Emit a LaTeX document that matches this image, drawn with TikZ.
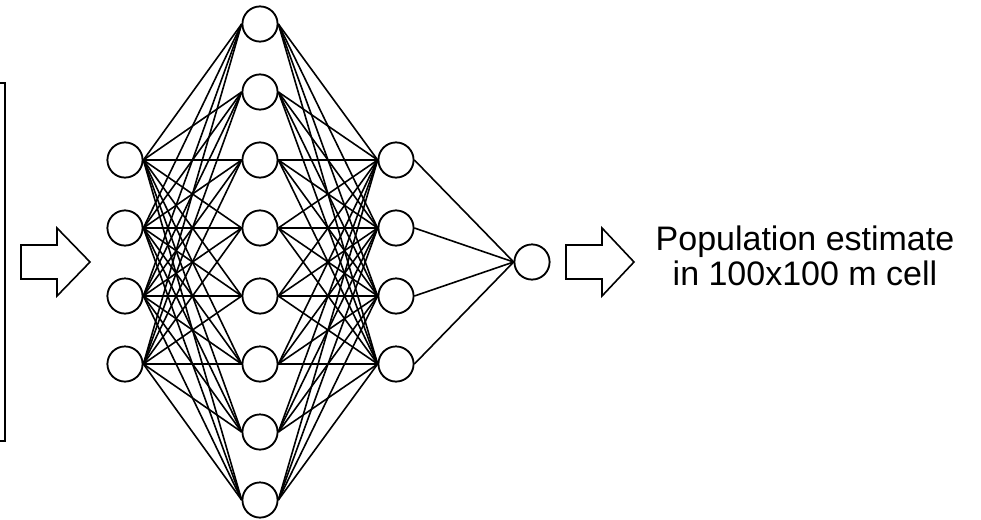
\documentclass[tikz,border=0pt]{standalone}
\usepackage{fontspec}
\setmainfont{Liberation Sans}
\begin{document}
\begin{tikzpicture}[x=1pt,y=-1pt,
  neuron/.style={circle,draw,line width=1.7pt,minimum size=35pt,inner sep=0pt,fill=white},
  conn/.style={line width=1.6pt},
  fatarrow/.style={draw,line width=1.6pt,line join=miter},
  lbl/.style={font=\fontsize{34}{35}\selectfont,align=center,inner sep=0pt}]
\useasboundingbox (0,0) rectangle (981,519);
\fill[white] (0,0) rectangle (981,519);
% input box (partly outside)
\draw[line width=1.6pt] (-20,83) rectangle (5,441);
% neurons
\foreach \i/\y in {1/160,2/228,3/296,4/364} \node[neuron] (in\i) at (125,\y) {};
\foreach \i/\y in {1/24,2/92,3/160,4/228,5/296,6/364,7/432,8/500} \node[neuron] (ha\i) at (260,\y) {};
\foreach \i/\y in {1/160,2/228,3/296,4/364} \node[neuron] (hb\i) at (396,\y) {};
\node[neuron] (out) at (532,262) {};
% connections
\foreach \i in {1,...,4} \foreach \j in {1,...,8} \draw[conn] (in\i.east) -- (ha\j.west);
\foreach \j in {1,...,8} \foreach \k in {1,...,4} \draw[conn] (ha\j.east) -- (hb\k.west);
\foreach \k in {1,...,4} \draw[conn] (hb\k.east) -- (out.west);
% redraw neurons on top
\foreach \i/\y in {1/160,2/228,3/296,4/364} \node[neuron] at (125,\y) {};
\foreach \i/\y in {1/24,2/92,3/160,4/228,5/296,6/364,7/432,8/500} \node[neuron] at (260,\y) {};
\foreach \i/\y in {1/160,2/228,3/296,4/364} \node[neuron] at (396,\y) {};
\node[neuron] at (532,262) {};
% arrows
\draw[fatarrow] (21,245) -- (57,245) -- (57,228) -- (90,262) -- (57,296) -- (57,279) -- (21,279) -- cycle;
\draw[fatarrow] (566,245) -- (602,245) -- (602,228) -- (634,262) -- (602,296) -- (602,279) -- (566,279) -- cycle;
% label
\node[lbl,anchor=base] (txt) at (805,285) {Population estimate\\in 100x100 m cell};
\end{tikzpicture}
\end{document}
